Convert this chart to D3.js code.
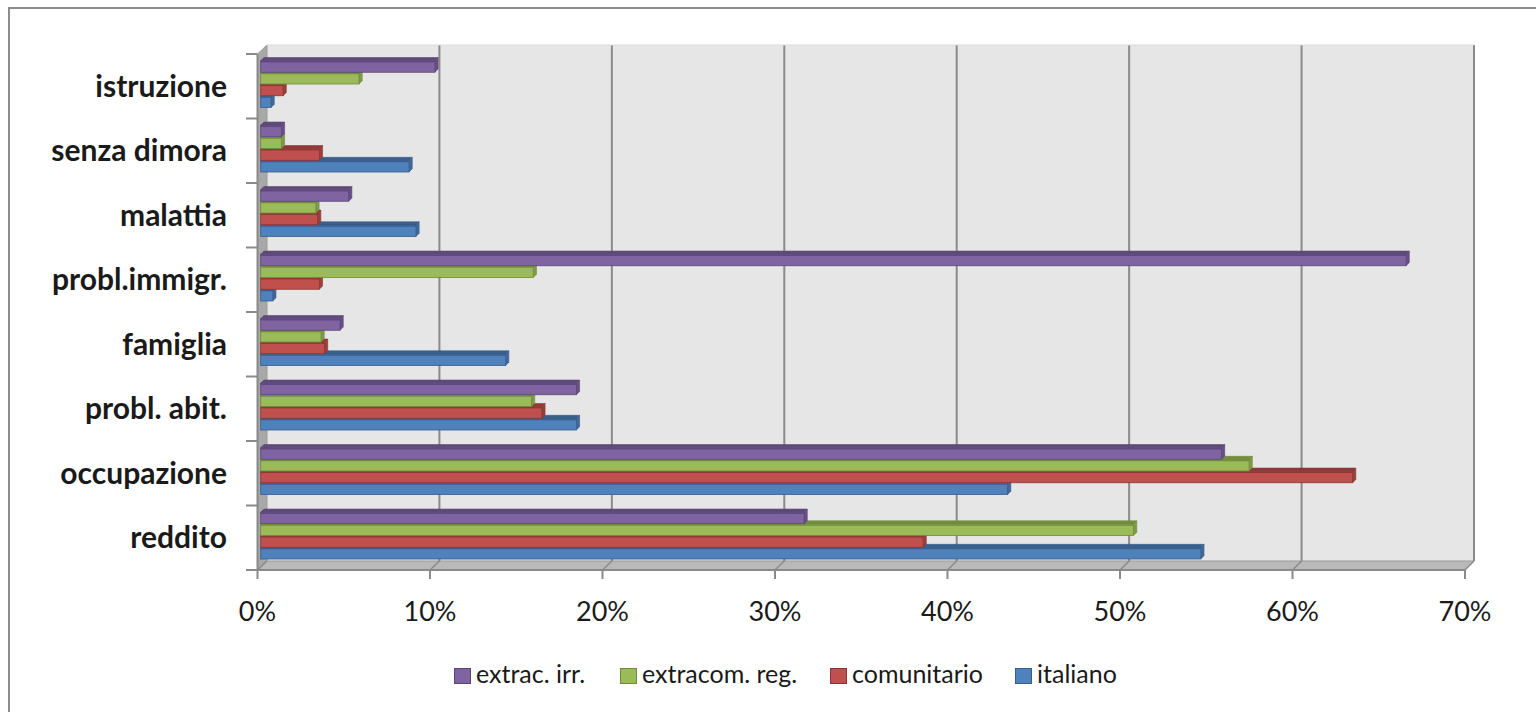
<!DOCTYPE html>
<html>
<head>
<meta charset="utf-8">
<script src="https://cdn.jsdelivr.net/npm/d3@7"></script>
<style>
  html, body { margin: 0; padding: 0; background: #ffffff; }
  svg { display: block; }
</style>
</head>
<body>
<svg id="chart" width="1536" height="712"></svg>
<script>
// ---- data (bottom to top) ----
const categories = ["reddito", "occupazione", "probl. abit.", "famiglia", "probl.immigr.", "malattia", "senza dimora", "istruzione"];
const seriesNames = ["extrac. irr.", "extracom. reg.", "comunitario", "italiano"];
const extracIrr   = [31.5, 55.7, 18.3, 4.6, 66.4, 5.1, 1.2, 10.1];
const extracomReg = [50.6, 57.3, 15.7, 3.5, 15.8, 3.2, 1.2, 5.7];
const comunitario = [38.4, 63.3, 16.3, 3.7, 3.4, 3.3, 3.4, 1.3];
const italiano    = [54.5, 43.3, 18.3, 14.2, 0.7, 9.0, 8.6, 0.6];
const tickValues  = [0, 10, 20, 30, 40, 50, 60, 70];
const tickLabels  = ["0%", "10%", "20%", "30%", "40%", "50%", "60%", "70%"];

const seriesValues = [extracIrr, extracomReg, comunitario, italiano];
const seriesColors = [
  { front: "#8064A2", top: "#5E4A7C", side: "#674F88", stroke: "#5A4575" },
  { front: "#9BBB59", top: "#738D3E", side: "#7E9B45", stroke: "#6F8A3B" },
  { front: "#C0504D", top: "#8F3A38", side: "#9C3F3C", stroke: "#8A3533" },
  { front: "#4F81BD", top: "#3A5F8C", side: "#41699A", stroke: "#385C88" }
];

const svg = d3.select("#chart");
const font = "Lato, 'Open Sans', sans-serif";

// outer frame
svg.append("rect")
  .attr("x", 9).attr("y", 8).attr("width", 1560).attr("height", 740)
  .attr("fill", "#ffffff").attr("stroke", "#8c8c8c").attr("stroke-width", 2);

// ---- scales ----
const xMax = 70;
const xFront = d3.scaleLinear().domain([0, xMax]).range([257.5, 1465]);
const xBack  = d3.scaleLinear().domain([0, xMax]).range([267, 1474]);
const xBar   = d3.scaleLinear().domain([0, xMax]).range([260.7, 1468.2]);
const depthX = 9.5, depthY = 9;
const yTop = 54, yBottom = 570;
const yBand = d3.scaleBand().domain(categories.slice().reverse()).range([yTop, yBottom]);
const ySub = d3.scaleBand().domain(seriesNames).range([6.5, 53.5]);

// ---- walls ----
const wall = svg.append("g");
wall.append("rect")
  .attr("x", xBack(0)).attr("y", yTop - depthY)
  .attr("width", xBack(xMax) - xBack(0)).attr("height", yBottom - yTop)
  .attr("fill", "#e6e6e6");
wall.append("path")
  .attr("d", `M${xFront(0)},${yTop} L${xBack(0)},${yTop - depthY} L${xBack(0)},${yBottom - depthY} L${xFront(0)},${yBottom} Z`)
  .attr("fill", "#a8a8a8").attr("stroke", "#9a9a9a").attr("stroke-width", 1);
wall.append("path")
  .attr("d", `M${xFront(0)},${yBottom} L${xBack(0)},${yBottom - depthY} L${xBack(xMax)},${yBottom - depthY} L${xFront(xMax)},${yBottom} Z`)
  .attr("fill", "#b9b9b9").attr("stroke", "#9a9a9a").attr("stroke-width", 1);

wall.selectAll("line.grid")
  .data(tickValues.filter(t => t > 0))
  .join("line")
  .attr("class", "grid")
  .attr("x1", d => xBack(d)).attr("x2", d => xBack(d))
  .attr("y1", yTop - depthY).attr("y2", yBottom - depthY)
  .attr("stroke", "#8a8a8a").attr("stroke-width", 2);
wall.selectAll("line.fdiag")
  .data(tickValues)
  .join("line")
  .attr("class", "fdiag")
  .attr("x1", d => xBack(d)).attr("x2", d => xFront(d))
  .attr("y1", yBottom - depthY).attr("y2", yBottom)
  .attr("stroke", "#8a8a8a").attr("stroke-width", 1.5);
wall.append("line")
  .attr("x1", xBack(0)).attr("x2", xBack(xMax))
  .attr("y1", yTop - depthY).attr("y2", yTop - depthY)
  .attr("stroke", "#dcdcdc").attr("stroke-width", 1);

// ---- bars (3D) ----
const barsG = svg.append("g");
const dx = 3.2, dy = 3.2, faceH = 11.5;
for (let s = seriesNames.length - 1; s >= 0; s--) {
  const name = seriesNames[s];
  const col = seriesColors[s];
  const data = categories.map((c, i) => ({ cat: c, v: seriesValues[s][i] }));
  const g = barsG.append("g");
  const yy = d => yBand(d.cat) + ySub(name) + (ySub.bandwidth() - faceH);
  g.selectAll("path.top").data(data).join("path")
    .attr("d", d => {
      const x0 = xBar(0), x1 = xBar(d.v), y = yy(d);
      return `M${x0},${y} L${x0 + dx},${y - dy} L${x1 + dx},${y - dy} L${x1},${y} Z`;
    })
    .attr("fill", col.top).attr("stroke", col.stroke).attr("stroke-width", 0.6);
  g.selectAll("path.side").data(data).join("path")
    .attr("d", d => {
      const x1 = xBar(d.v), y = yy(d);
      return `M${x1},${y} L${x1 + dx},${y - dy} L${x1 + dx},${y + faceH - dy} L${x1},${y + faceH} Z`;
    })
    .attr("fill", col.side).attr("stroke", col.stroke).attr("stroke-width", 0.6);
  g.selectAll("rect.front").data(data).join("rect")
    .attr("x", xBar(0)).attr("y", d => yy(d))
    .attr("width", d => xBar(d.v) - xBar(0)).attr("height", faceH)
    .attr("fill", col.front).attr("stroke", col.stroke).attr("stroke-width", 0.8);
  // darker top edge on the front face
  g.selectAll("line.edge").data(data).join("line")
    .attr("x1", xBar(0)).attr("x2", d => xBar(d.v))
    .attr("y1", d => yy(d) + 1).attr("y2", d => yy(d) + 1)
    .attr("stroke", col.top).attr("stroke-width", 1.6);
}

// ---- axes ----
const axG = svg.append("g");
axG.append("line")
  .attr("x1", xFront(0)).attr("x2", xFront(xMax))
  .attr("y1", yBottom).attr("y2", yBottom)
  .attr("stroke", "#8a8a8a").attr("stroke-width", 2);
axG.selectAll("line.xt").data(tickValues).join("line")
  .attr("x1", d => xFront(d)).attr("x2", d => xFront(d))
  .attr("y1", yBottom).attr("y2", yBottom + 9)
  .attr("stroke", "#8a8a8a").attr("stroke-width", 2);
axG.selectAll("text.xl").data(tickValues).join("text")
  .attr("x", d => xFront(d)).attr("y", 621)
  .attr("text-anchor", "middle")
  .attr("font-family", font).attr("font-size", 27).attr("fill", "#1a1a1a")
  .text((d, i) => tickLabels[i]);

axG.append("line")
  .attr("x1", xFront(0)).attr("x2", xFront(0))
  .attr("y1", yTop).attr("y2", yBottom)
  .attr("stroke", "#8a8a8a").attr("stroke-width", 2);
const yEdges = yBand.domain().map(c => yBand(c)).concat([yBottom]);
axG.selectAll("line.yt").data(yEdges).join("line")
  .attr("x1", 246).attr("x2", xFront(0))
  .attr("y1", d => d).attr("y2", d => d)
  .attr("stroke", "#8a8a8a").attr("stroke-width", 2);
axG.selectAll("text.yl").data(categories).join("text")
  .attr("x", 227).attr("y", d => yBand(d) + yBand.bandwidth() / 2 + 10.5)
  .attr("text-anchor", "end")
  .attr("font-family", font).attr("font-size", 30).attr("font-weight", "bold").attr("fill", "#1a1a1a")
  .text(d => d);

// ---- legend ----
const legendX = [454, 620, 830, 1015];
const leg = svg.append("g");
seriesNames.forEach((name, i) => {
  const g = leg.append("g").attr("transform", `translate(${legendX[i]},668)`);
  g.append("rect").attr("x", 0.5).attr("y", 0.5).attr("width", 16).attr("height", 15)
    .attr("fill", seriesColors[i].front).attr("stroke", seriesColors[i].stroke).attr("stroke-width", 1);
  g.append("text").attr("x", 22).attr("y", 15)
    .attr("font-family", font).attr("font-size", 25).attr("fill", "#1a1a1a")
    .text(name);
});
</script>
</body>
</html>
